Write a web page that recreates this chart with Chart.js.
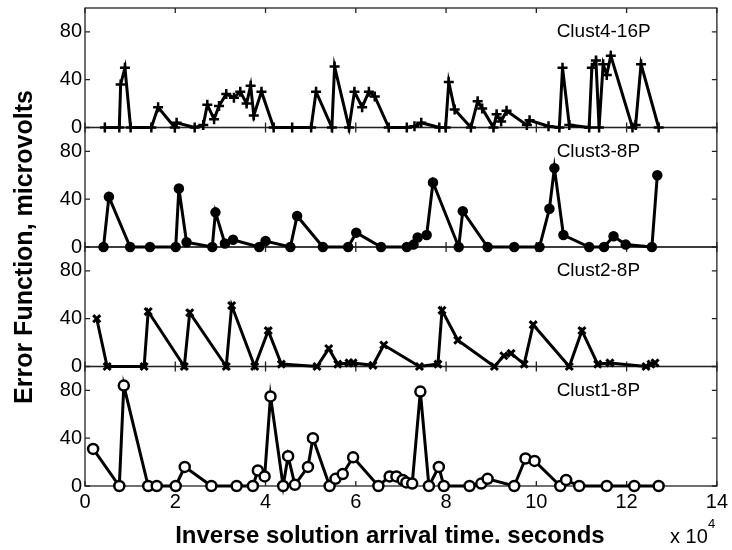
<!DOCTYPE html>
<html>
<head>
<meta charset="utf-8">
<script src="https://cdn.jsdelivr.net/npm/chart.js@4.4.0/dist/chart.umd.min.js"></script>
<style>
  html, body { margin: 0; padding: 0; background: #fff; }
</style>
</head>
<body>
<canvas id="chart" width="732" height="550"></canvas>
<script>
// x in units of 1e4 seconds, y in microvolts
const clust4X = [0.44,0.76,0.79,0.885,1.01,1.47,1.62,1.99,2.03,2.43,2.62,2.71,2.86,2.97,3.13,3.30,3.44,3.58,3.67,3.74,3.91,4.18,4.59,5.01,5.12,5.47,5.53,5.85,5.97,6.14,6.29,6.42,6.73,7.13,7.30,7.45,7.85,7.99,8.06,8.19,8.55,8.70,8.80,9.05,9.12,9.22,9.34,9.79,9.85,10.27,10.51,10.58,10.73,11.17,11.23,11.32,11.39,11.48,11.56,11.65,12.13,12.20,12.32,12.71];
const clust4Y = [0,0,36,50,0,0,17,0,4,0,2,19,7,18,28,25,30,20,35,10,30,0,0,0,30,0,51,0,30,17,30,26,0,0,1,4,0,0,38,15,0,22,16,0,11,5,14,2,6,1,0,50,2,0,50,56,0,53,44,60,0,2,53,0];

const clust3X = [0.41,0.53,1.0,1.44,2.01,2.08,2.25,2.82,2.89,3.10,3.28,3.86,4.0,4.55,4.70,5.27,5.83,6.01,6.56,7.13,7.28,7.37,7.57,7.71,8.28,8.37,8.92,9.51,10.07,10.29,10.40,10.60,11.17,11.50,11.71,11.98,12.56,12.68];
const clust3Y = [0,42,0,0,0,49,4,0,29,3,6,0,5,0,26,0,0,12,0,0,2,8,10,54,0,30,0,0,0,32,66,10,0,0,9,2,0,60];

const clust2X = [0.26,0.49,1.31,1.40,2.20,2.32,3.13,3.25,3.76,4.06,4.35,5.14,5.40,5.60,5.85,5.94,6.38,6.62,7.41,7.82,7.91,8.26,9.07,9.28,9.44,9.73,9.93,10.73,11.01,11.36,11.63,12.43,12.54,12.63];
const clust2Y = [40,0,0,46,0,45,0,51,0,30,2,0,15,2,3,3,1,18,0,2,47,22,0,9,11,2,35,0,30,2,3,0,2,3];

const clust1X = [0.18,0.76,0.86,1.40,1.59,2.01,2.21,2.80,3.36,3.72,3.83,3.98,4.11,4.39,4.50,4.65,4.94,5.05,5.42,5.55,5.71,5.94,6.50,6.75,6.90,7.04,7.12,7.25,7.43,7.62,7.84,7.95,8.52,8.78,8.92,9.51,9.76,9.96,10.53,10.66,10.95,11.56,12.17,12.71];
const clust1Y = [31,0,84,0,0,0,16,0,0,0,13,8,75,0,25,1,16,40,0,6,10,24,0,8,8,5,3,2,79,0,16,0,0,2,6,0,23,21,0,5,0,0,0,0];

const panelLabels = ['Clust1-8P', 'Clust2-8P', 'Clust3-8P', 'Clust4-16P'];
const xTicks = [0, 2, 4, 6, 8, 10, 12, 14];
const yTicks = [0, 40, 80];

const FONT = '"Liberation Sans", Arial, Helvetica, sans-serif';

function pts(xs, ys) {
    return xs.map((x, i) => ({ x: x, y: ys[i] }));
}

function series(xs, ys, axis, style, radius, fill, markerWidth) {
    return {
        data: pts(xs, ys),
        yAxisID: axis,
        borderColor: '#000',
        borderWidth: 3,
        pointStyle: style,
        pointRadius: radius,
        pointBorderWidth: markerWidth,
        pointBorderColor: '#000',
        pointBackgroundColor: fill,
        tension: 0,
        clip: false
    };
}

function panelAxis() {
    return {
        type: 'linear',
        position: 'left',
        stack: 'panels',
        stackWeight: 1,
        min: 0,
        max: 100,
        offset: false,
        grid: { display: false, drawTicks: false },
        border: { display: false },
        ticks: { color: '#000', font: { family: FONT, size: 20 }, padding: 3, autoSkip: false },
        afterBuildTicks: s => { s.ticks = yTicks.map(v => ({ value: v })); },
        afterFit: s => { s.width = 85; s.paddingTop = 0; s.paddingBottom = 0; }
    };
}

const axisIds = ['y1', 'y2', 'y3', 'y4'];

const framePlugin = {
    id: 'frames',
    beforeDatasetsDraw(chart) {
        const ctx = chart.ctx, area = chart.chartArea, xs = chart.scales.x;
        ctx.save();
        ctx.strokeStyle = '#222';
        ctx.lineWidth = 1.3;
        axisIds.forEach(id => {
            const ys = chart.scales[id];
            ctx.strokeRect(area.left, ys.top, area.right - area.left, ys.bottom - ys.top);
            ctx.beginPath();
            xTicks.forEach(v => {
                const px = xs.getPixelForValue(v);
                ctx.moveTo(px, ys.top); ctx.lineTo(px, ys.top + 5);
                ctx.moveTo(px, ys.bottom); ctx.lineTo(px, ys.bottom - 5);
            });
            yTicks.forEach(v => {
                const py = ys.getPixelForValue(v);
                ctx.moveTo(area.left, py); ctx.lineTo(area.left + 5, py);
                ctx.moveTo(area.right, py); ctx.lineTo(area.right - 5, py);
            });
            ctx.stroke();
        });
        ctx.restore();
    },
    afterDraw(chart) {
        const ctx = chart.ctx, area = chart.chartArea, xs = chart.scales.x;
        ctx.save();
        ctx.fillStyle = '#000';
        ctx.textBaseline = 'middle';
        ctx.textAlign = 'left';
        ctx.font = '19px ' + FONT;
        axisIds.forEach((id, i) => {
            const ys = chart.scales[id];
            ctx.fillText(panelLabels[i], xs.getPixelForValue(10.45), ys.getPixelForValue(80));
        });

        // y title
        ctx.save();
        ctx.translate(25, (area.top + area.bottom) / 2);
        ctx.rotate(-Math.PI / 2);
        ctx.textAlign = 'center';
        ctx.font = 'bold 25px ' + FONT;
        ctx.fillText('Error Function, microvolts', 0, 0);
        ctx.restore();

        // x title
        ctx.textAlign = 'center';
        ctx.textBaseline = 'alphabetic';
        ctx.font = 'bold 24px ' + FONT;
        ctx.fillText('Inverse solution arrival time. seconds', (area.left + area.right) / 2 - 11, 543);

        // exponent
        ctx.textAlign = 'left';
        ctx.font = '20px ' + FONT;
        ctx.fillText('x 10', 670, 543);
        ctx.font = '13px ' + FONT;
        ctx.fillText('4', 708, 528);
        ctx.restore();
    }
};

const scales = {
    x: {
        type: 'linear',
        min: 0,
        max: 14,
        grid: { display: false, drawTicks: false },
        border: { display: false },
        ticks: { color: '#000', font: { family: FONT, size: 20 }, padding: 4, stepSize: 2, autoSkip: false },
        afterBuildTicks: s => { s.ticks = xTicks.map(v => ({ value: v })); },
        afterFit: s => { s.height = 64; }
    }
};
axisIds.forEach(id => { scales[id] = panelAxis(); });

new Chart(document.getElementById('chart'), {
    type: 'line',
    data: {
        datasets: [
            series(clust1X, clust1Y, 'y1', 'circle', 5, '#fff', 2.5),
            series(clust2X, clust2Y, 'y2', 'crossRot', 5, '#000', 3),
            series(clust3X, clust3Y, 'y3', 'circle', 4, '#000', 2.5),
            series(clust4X, clust4Y, 'y4', 'cross', 5, '#000', 2.5)
        ]
    },
    options: {
        responsive: false,
        animation: false,
        layout: { padding: { top: 7, right: 14, bottom: 0, left: 0 } },
        plugins: { legend: { display: false }, tooltip: { enabled: false } },
        scales: scales
    },
    plugins: [framePlugin]
});
</script>
</body>
</html>
